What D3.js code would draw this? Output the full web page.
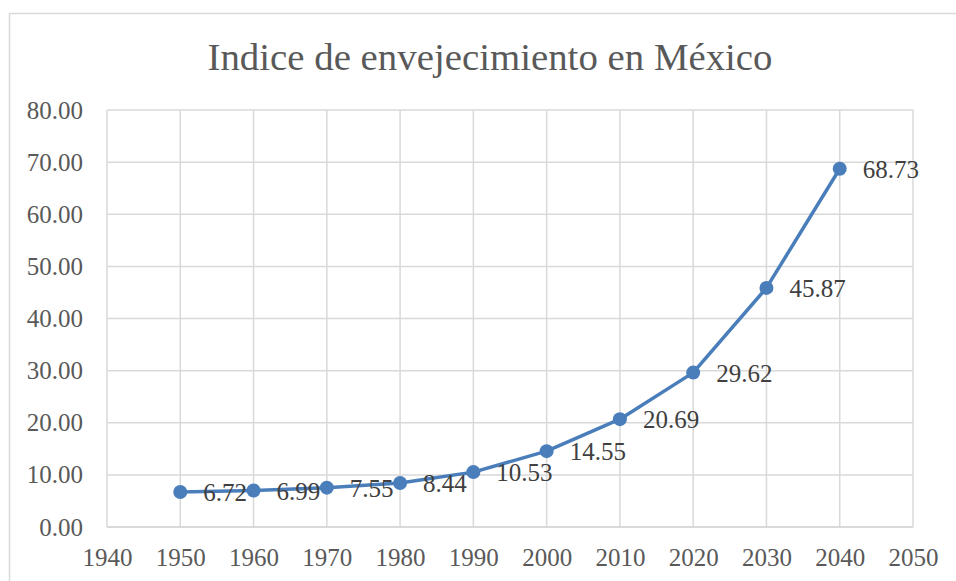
<!DOCTYPE html>
<html>
<head>
<meta charset="utf-8">
<script src="https://cdn.jsdelivr.net/npm/d3@7"></script>
<style>
  body { margin: 0; background: #fff; }
  svg { display: block; }
  text { font-family: "Liberation Serif", "DejaVu Serif", serif; }
</style>
</head>
<body>
<svg id="chart" width="956" height="581"></svg>
<script>
const years = [1950, 1960, 1970, 1980, 1990, 2000, 2010, 2020, 2030, 2040];
const values = [6.72, 6.99, 7.55, 8.44, 10.53, 14.55, 20.69, 29.62, 45.87, 68.73];
const xTicks = [1940, 1950, 1960, 1970, 1980, 1990, 2000, 2010, 2020, 2030, 2040, 2050];
const yTicks = [0, 10, 20, 30, 40, 50, 60, 70, 80];
const title = 'Indice de envejecimiento en México';

const svg = d3.select('#chart');
const plot = {left: 107, top: 110, right: 913, bottom: 527};
const blue = '#4a7ebb';

// outer chart frame, runs off the right and bottom edge
svg.append('rect')
    .attr('x', 9.5).attr('y', 13.5)
    .attr('width', 980).attr('height', 620)
    .attr('fill', 'none')
    .attr('stroke', '#d9d9d9')
    .attr('stroke-width', 1.5);

const x = d3.scaleLinear().domain([1940, 2050]).range([plot.left, plot.right]);
const y = d3.scaleLinear().domain([0, 80]).range([plot.bottom, plot.top]);

// grid
const grid = svg.append('g');
grid.selectAll('.hgrid')
    .data(yTicks)
    .enter()
    .append('line')
    .classed('hgrid', true)
    .attr('x1', plot.left).attr('x2', plot.right)
    .attr('y1', d => y(d)).attr('y2', d => y(d))
    .attr('stroke', '#d9d9d9')
    .attr('stroke-width', d => d === 0 ? 2 : 1.5);
grid.selectAll('.vgrid')
    .data(xTicks)
    .enter()
    .append('line')
    .classed('vgrid', true)
    .attr('x1', d => x(d)).attr('x2', d => x(d))
    .attr('y1', plot.top).attr('y2', plot.bottom)
    .attr('stroke', '#d9d9d9')
    .attr('stroke-width', 1.5);

// axes (labels only, lines drawn by the grid)
const yAxis = svg.append('g')
    .attr('transform', `translate(${plot.left},0)`)
    .call(d3.axisLeft(y).tickValues(yTicks).tickFormat(d3.format('.2f')).tickSize(0).tickPadding(24));
const xAxis = svg.append('g')
    .attr('transform', `translate(0,${plot.bottom})`)
    .call(d3.axisBottom(x).tickValues(xTicks).tickFormat(d3.format('d')).tickSize(0).tickPadding(21));
[yAxis, xAxis].forEach(ax => {
    ax.select('.domain').remove();
    ax.selectAll('text')
        .style('font-family', '"Liberation Serif", serif')
        .style('font-size', '25px')
        .attr('fill', '#595959');
});

// title
svg.append('text')
    .attr('x', 490)
    .attr('y', 70)
    .attr('text-anchor', 'middle')
    .attr('fill', '#595959')
    .style('font-size', '38px')
    .attr('textLength', 565)
    .attr('lengthAdjust', 'spacingAndGlyphs')
    .text(title);

const points = years.map((yr, i) => ({year: yr, value: values[i]}));

// series line
svg.append('path')
    .datum(points)
    .attr('fill', 'none')
    .attr('stroke', blue)
    .attr('stroke-width', 3.5)
    .attr('stroke-linejoin', 'round')
    .attr('d', d3.line().x(d => x(d.year)).y(d => y(d.value)));

svg.append('g')
    .selectAll('circle')
    .data(points)
    .enter()
    .append('circle')
    .attr('cx', d => x(d.year))
    .attr('cy', d => y(d.value))
    .attr('r', 7)
    .attr('fill', blue);

// data labels
svg.append('g')
    .selectAll('text')
    .data(points)
    .enter()
    .append('text')
    .attr('x', d => x(d.year) + 23)
    .attr('y', d => y(d.value) + 9)
    .attr('fill', '#404040')
    .style('font-size', '25px')
    .text(d => d3.format('.2f')(d.value));
</script>
</body>
</html>
